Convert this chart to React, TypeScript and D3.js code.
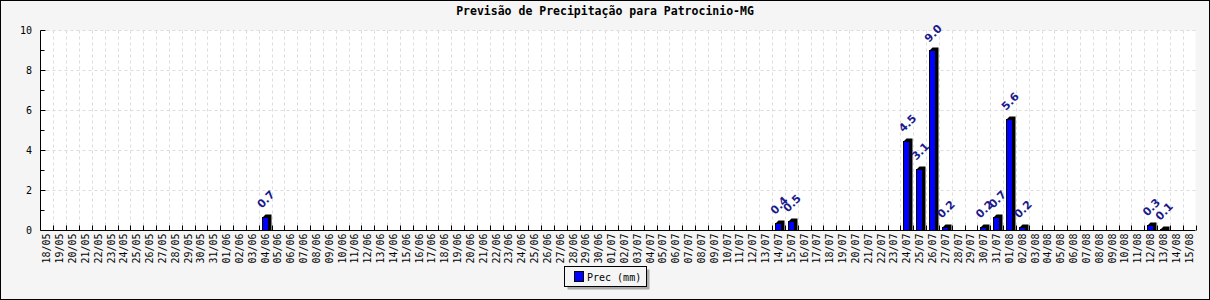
import React from "react";
import * as d3 from "d3";

const TITLE = "Previsão de Precipitação para Patrocinio-MG";
const LEGEND_LABEL = "Prec (mm)";

const dates = [
  "18/05", "19/05", "20/05", "21/05", "22/05", "23/05", "24/05", "25/05", "26/05", "27/05",
  "28/05", "29/05", "30/05", "31/05",
  "01/06", "02/06", "03/06", "04/06", "05/06", "06/06", "07/06", "08/06", "09/06", "10/06",
  "11/06", "12/06", "13/06", "14/06", "15/06", "16/06", "17/06", "18/06", "19/06", "20/06",
  "21/06", "22/06", "23/06", "24/06", "25/06", "26/06", "27/06", "28/06", "29/06", "30/06",
  "01/07", "02/07", "03/07", "04/07", "05/07", "06/07", "07/07", "08/07", "09/07", "10/07",
  "11/07", "12/07", "13/07", "14/07", "15/07", "16/07", "17/07", "18/07", "19/07", "20/07",
  "21/07", "22/07", "23/07", "24/07", "25/07", "26/07", "27/07", "28/07", "29/07", "30/07",
  "31/07",
  "01/08", "02/08", "03/08", "04/08", "05/08", "06/08", "07/08", "08/08", "09/08", "10/08",
  "11/08", "12/08", "13/08", "14/08", "15/08",
];

const precValues = [
  0, 0, 0, 0, 0, 0, 0, 0, 0, 0,
  0, 0, 0, 0,
  0, 0, 0, 0.7, 0, 0, 0, 0, 0, 0,
  0, 0, 0, 0, 0, 0, 0, 0, 0, 0,
  0, 0, 0, 0, 0, 0, 0, 0, 0, 0,
  0, 0, 0, 0, 0, 0, 0, 0, 0, 0,
  0, 0, 0, 0.4, 0.5, 0, 0, 0, 0, 0,
  0, 0, 0, 4.5, 3.1, 9.0, 0.2, 0, 0, 0.2,
  0.7,
  5.6, 0.2, 0, 0, 0, 0, 0, 0, 0, 0,
  0, 0.3, 0.1, 0, 0,
];

const yTicks = [0, 2, 4, 6, 8, 10];
const yMinorTicks = [1, 3, 5, 7, 9];

const W = 1210;
const H = 300;
const PL = 40.5;
const PR = 1195.5;
const PT = 30.5;
const PB = 230.5;

export default function App() {
  const x = d3.scaleBand<string>().domain(dates).range([PL, PR]).padding(0);
  const y = d3.scaleLinear().domain([0, 10]).range([PB, PT]);
  const bw = x.bandwidth();
  const mono = "'DejaVu Sans Mono', monospace";
  const shadow = 3;

  return (
    <svg
      width={W}
      height={H}
      style={{ position: "absolute", left: 0, top: 0, display: "block" }}
      xmlns="http://www.w3.org/2000/svg"
    >
      <rect x={0.5} y={0.5} width={W - 1} height={H - 1} fill="#f5f5f5" stroke="#000" />
      <rect x={PL} y={PT} width={PR - PL} height={PB - PT} fill="#fff" />
      <text
        x={W / 2}
        y={15}
        textAnchor="middle"
        fontFamily={mono}
        fontWeight="bold"
        fontSize={11.5}
        fill="#000"
      >
        {TITLE}
      </text>

      {/* grid */}
      {dates.map((d, i) => {
        const gx = Math.round(x(d)! + bw) + 0.5;
        if (i === dates.length - 1) return null;
        return (
          <line key={"vg" + d} x1={gx} x2={gx} y1={PT} y2={PB} stroke="#dddddd" strokeDasharray="3,3" />
        );
      })}
      {yTicks.filter((t) => t > 0).map((t) => (
        <line key={"hg" + t} x1={PL} x2={PR} y1={y(t)} y2={y(t)} stroke="#dddddd" strokeDasharray="3,3" />
      ))}

      {/* bars */}
      {dates.map((d, i) => {
        const v = precValues[i];
        if (!v) return null;
        const cx = x(d)! + bw / 2;
        const x0 = Math.round(cx - 3.5) + 0.5;
        const x1 = x0 + 6;
        const top = Math.round(y(v)) + 0.5;
        const pts = [
          [x0, top],
          [x0 + shadow, top - shadow],
          [x1 + shadow, top - shadow],
          [x1 + shadow, PB],
          [x1, PB],
        ]
          .map((p) => p.join(","))
          .join(" ");
        return (
          <g key={"b" + d}>
            <polygon points={pts} fill="#000" />
            <rect x={x0} y={top} width={x1 - x0} height={PB - top} fill="#0000ff" stroke="#000" />
          </g>
        );
      })}

      {/* value labels */}
      {dates.map((d, i) => {
        const v = precValues[i];
        if (!v) return null;
        const cx = x(d)! + bw / 2 + 1;
        const cy = y(v) - 17;
        return (
          <text
            key={"vl" + d}
            x={cx}
            y={cy}
            transform={`rotate(-45 ${cx} ${cy})`}
            textAnchor="middle"
            dominantBaseline="central"
            fontFamily="'DejaVu Sans', sans-serif"
            fontWeight="bold"
            fontSize={11}
            fill="#1a1a8c"
          >
            {d3.format(".1f")(v)}
          </text>
        );
      })}

      {/* axes */}
      <line x1={PL} x2={PL} y1={PT} y2={PB} stroke="#000" />
      <line x1={PL} x2={PR} y1={PB} y2={PB} stroke="#000" />
      {yTicks.map((t) => (
        <g key={"yt" + t}>
          <line x1={PL} x2={PL + 5} y1={y(t)} y2={y(t)} stroke="#000" />
          <text
            x={32}
            y={y(t)}
            textAnchor="end"
            dominantBaseline="central"
            fontFamily={mono}
            fontSize={10}
            fill="#000"
          >
            {t}
          </text>
        </g>
      ))}
      {yMinorTicks.map((t) => (
        <line key={"ym" + t} x1={PL} x2={PL + 4} y1={y(t)} y2={y(t)} stroke="#000" />
      ))}
      {dates.map((d) => {
        const tx = Math.round(x(d)! + bw) + 0.5;
        return <line key={"xt" + d} x1={tx} x2={tx} y1={PB - 5} y2={PB} stroke="#000" />;
      })}
      {dates.map((d) => {
        const cx = x(d)! + bw / 2;
        const ty = PB + 3;
        return (
          <text
            key={"xl" + d}
            x={cx}
            y={ty}
            transform={`rotate(-90 ${cx} ${ty})`}
            textAnchor="end"
            dominantBaseline="central"
            fontFamily={mono}
            fontSize={10}
            fill="#000"
          >
            {d}
          </text>
        );
      })}

      {/* legend */}
      <rect x={567.5} y={269.5} width={82} height={20} fill="#aaaaaa" />
      <rect x={564.5} y={266.5} width={82} height={20} fill="#f5f5f5" stroke="#000" />
      <rect x={574.5} y={271.5} width={9} height={10} fill="#0000ff" stroke="#000" />
      <text x={587} y={277} dominantBaseline="central" fontFamily={mono} fontSize={10} fill="#000">
        {LEGEND_LABEL}
      </text>
    </svg>
  );
}
